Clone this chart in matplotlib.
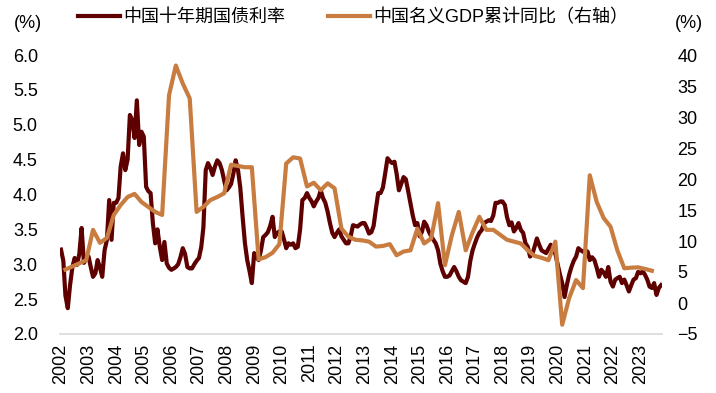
import matplotlib as mpl
mpl.use('Agg')

from matplotlib import pyplot as plt
from matplotlib.ticker import FormatStrFormatter
import numpy as np
import pandas as pd

plt.rcParams['font.family'] = ['Liberation Sans', 'Noto Sans CJK SC', 'DejaVu Sans']

# 中国十年期国债利率 (%), 月度, 2002-01 ~ 2023-10
rate_2002 = [3.21, 3.05, 2.55, 2.37, 2.70, 2.96, 3.09, 2.99, 3.15, 3.52, 3.02, 3.08]
rate_2003 = [3.11, 2.95, 2.82, 2.87, 3.06, 2.95, 2.82, 3.20, 3.35, 3.92, 3.35, 3.88]
rate_2004 = [3.88, 3.95, 4.40, 4.59, 4.35, 4.50, 5.14, 5.07, 4.81, 5.35, 4.71, 4.90]
rate_2005 = [4.83, 4.11, 4.05, 4.02, 3.59, 3.30, 3.50, 3.25, 3.06, 3.32, 3.01, 2.95]
rate_2006 = [2.92, 2.94, 2.96, 3.00, 3.10, 3.23, 3.15, 2.96, 2.94, 2.94, 3.00, 3.05]
rate_2007 = [3.09, 3.25, 3.53, 4.35, 4.45, 4.38, 4.28, 4.40, 4.49, 4.45, 4.35, 4.20]
rate_2008 = [4.06, 4.10, 4.15, 4.30, 4.49, 4.35, 4.10, 3.68, 3.30, 3.06, 2.90, 2.73]
rate_2009 = [3.16, 3.10, 3.06, 3.20, 3.39, 3.42, 3.46, 3.55, 3.68, 3.39, 3.45, 3.47]
rate_2010 = [3.47, 3.35, 3.23, 3.30, 3.28, 3.30, 3.23, 3.25, 3.50, 3.92, 3.95, 4.02]
rate_2011 = [3.95, 3.90, 3.83, 3.90, 3.95, 4.06, 3.95, 3.88, 3.75, 3.59, 3.45, 3.39]
rate_2012 = [3.45, 3.50, 3.40, 3.35, 3.30, 3.30, 3.40, 3.56, 3.55, 3.54, 3.57, 3.59]
rate_2013 = [3.59, 3.52, 3.44, 3.46, 3.55, 3.80, 4.02, 4.02, 4.10, 4.30, 4.52, 4.48]
rate_2014 = [4.45, 4.47, 4.30, 4.06, 4.15, 4.25, 4.22, 4.05, 3.87, 3.70, 3.56, 3.59]
rate_2015 = [3.40, 3.47, 3.61, 3.56, 3.47, 3.40, 3.35, 3.30, 3.20, 3.01, 2.90, 2.82]
rate_2016 = [2.82, 2.84, 2.90, 2.96, 2.90, 2.82, 2.77, 2.75, 2.73, 2.82, 3.05, 3.20]
rate_2017 = [3.30, 3.39, 3.45, 3.49, 3.59, 3.61, 3.63, 3.62, 3.70, 3.88, 3.88, 3.90]
rate_2018 = [3.90, 3.85, 3.68, 3.56, 3.60, 3.47, 3.52, 3.59, 3.49, 3.45, 3.30, 3.25]
rate_2019 = [3.11, 3.15, 3.25, 3.37, 3.28, 3.20, 3.18, 3.16, 3.22, 3.28, 3.20, 3.15]
rate_2020 = [3.00, 2.85, 2.73, 2.53, 2.70, 2.85, 2.96, 3.05, 3.11, 3.23, 3.20, 3.18]
rate_2021 = [3.20, 3.18, 3.06, 3.10, 3.06, 2.95, 2.82, 2.92, 2.88, 2.82, 2.96, 2.75]
rate_2022 = [2.68, 2.78, 2.80, 2.82, 2.73, 2.78, 2.70, 2.61, 2.70, 2.78, 2.80, 2.89]
rate_2023 = [2.87, 2.90, 2.85, 2.78, 2.68, 2.66, 2.73, 2.56, 2.66, 2.70]

# 中国名义GDP累计同比 (%), 季度, 2002Q1 ~ 2023Q2
gdp_2002 = [5.4, 5.9, 6.4, 6.9]
gdp_2003 = [11.8, 9.7, 10.5, 14.2]
gdp_2004 = [15.8, 17.1, 17.6, 16.3]
gdp_2005 = [15.5, 14.7, 14.2, 33.5]
gdp_2006 = [38.3, 35.4, 33.0, 14.7]
gdp_2007 = [15.5, 16.6, 17.1, 17.7]
gdp_2008 = [22.3, 22.1, 21.9, 21.9]
gdp_2009 = [7.05, 7.4, 8.1, 9.5]
gdp_2010 = [22.5, 23.5, 23.3, 18.8]
gdp_2011 = [19.4, 18.2, 19.3, 18.5]
gdp_2012 = [12.0, 10.7, 10.2, 10.1]
gdp_2013 = [9.9, 9.1, 9.2, 9.5]
gdp_2014 = [7.7, 8.3, 8.5, 12.0]
gdp_2015 = [9.6, 10.4, 16.1, 6.1]
gdp_2016 = [10.9, 14.7, 8.5, 11.4]
gdp_2017 = [13.9, 11.8, 11.8, 11.0]
gdp_2018 = [10.2, 9.9, 9.6, 8.5]
gdp_2019 = [7.6, 7.3, 6.9, 9.9]
gdp_2020 = [-3.5, 0.8, 3.7, 2.4]
gdp_2021 = [20.6, 16.3, 13.7, 12.3]
gdp_2022 = [8.5, 5.6, 5.7, 5.75]
gdp_2023 = [5.5, 5.2]

rate = (rate_2002 + rate_2003 + rate_2004 + rate_2005 + rate_2006 + rate_2007
        + rate_2008 + rate_2009 + rate_2010 + rate_2011 + rate_2012 + rate_2013
        + rate_2014 + rate_2015 + rate_2016 + rate_2017 + rate_2018 + rate_2019
        + rate_2020 + rate_2021 + rate_2022 + rate_2023)
gdp = (gdp_2002 + gdp_2003 + gdp_2004 + gdp_2005 + gdp_2006 + gdp_2007
       + gdp_2008 + gdp_2009 + gdp_2010 + gdp_2011 + gdp_2012 + gdp_2013
       + gdp_2014 + gdp_2015 + gdp_2016 + gdp_2017 + gdp_2018 + gdp_2019
       + gdp_2020 + gdp_2021 + gdp_2022 + gdp_2023)

years = list(range(2002, 2024))
rate_dates = pd.date_range('2002-01-01', periods=len(rate), freq='MS')
gdp_dates = pd.date_range('2002-03-01', periods=len(gdp), freq='3MS')

c_rate = '#5E0000'
c_gdp = '#C97C40'

fig = plt.figure(figsize=(7.16, 3.93), dpi=100)
ax = fig.add_axes([60 / 716, 1 - 334 / 393, 602 / 716, 279 / 393])
l1, = ax.plot(rate_dates, rate, color=c_rate, lw=3, label='中国十年期国债利率')
ax2 = ax.twinx()
l2, = ax2.plot(gdp_dates, gdp, color=c_gdp, lw=3, label='中国名义GDP累计同比（右轴）')

ax.set_xlim(pd.Timestamp('2001-12-19'), pd.Timestamp('2023-10-13'))
ax.set_ylim(2, 6)
ax.set_yticks(np.arange(2, 6.01, 0.5))
ax.yaxis.set_major_formatter(FormatStrFormatter('%.1f'))
ax2.set_ylim(-5, 40)
ax2.set_yticks(np.arange(-5, 41, 5))

ax.set_xticks([pd.Timestamp(f'{y}-01-01') for y in years])
ax.set_xticklabels([str(y) for y in years], rotation=90)

for a in (ax, ax2):
    for s in a.spines.values():
        s.set_visible(False)
ax.spines['bottom'].set_visible(True)
ax.spines['bottom'].set_color('#d9d9d9')
ax.spines['bottom'].set_linewidth(1.2)

ax.tick_params(axis='y', length=0, pad=16, labelsize=13)
ax.tick_params(axis='x', length=0, pad=7, labelsize=13)
ax2.tick_params(axis='y', length=0, pad=11, labelsize=13)

fig.text(28 / 716, 1 - 24 / 393, '(%)', ha='center', va='center', fontsize=13)
fig.text(689 / 716, 1 - 24 / 393, '(%)', ha='center', va='center', fontsize=13)

fig.legend([l1, l2], [l1.get_label(), l2.get_label()], loc='upper left',
           bbox_to_anchor=(78 / 716, 1 - 9 / 393), ncol=2, frameon=False,
           fontsize=13, handlelength=2.3, handletextpad=0.2, columnspacing=2.4,
           borderpad=0, borderaxespad=0)

plt.savefig('out.png', dpi=100)
plt.close()
